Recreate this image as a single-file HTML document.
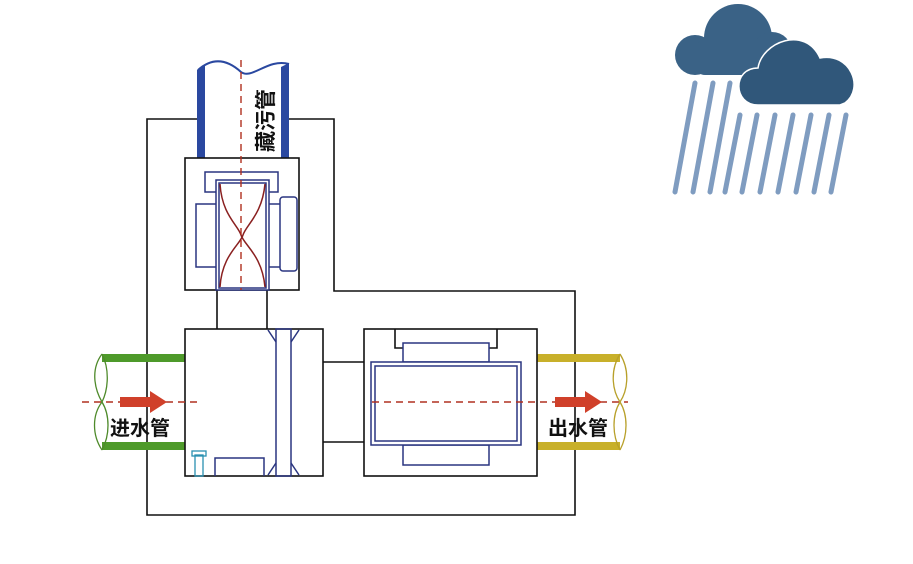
<!DOCTYPE html>
<html><head><meta charset="utf-8"><style>html,body{margin:0;padding:0;background:#fff}svg{display:block}</style></head>
<body>
<svg width="913" height="564" viewBox="0 0 913 564" xmlns="http://www.w3.org/2000/svg">
<g fill="none" stroke="#111" stroke-width="1.6">
<path d="M147 119 H334 V291 H575 V515 H147 Z"/>
</g>
<!-- top blue pipe -->
<rect x="205" y="70" width="76" height="88" fill="#fff"/>
<path d="M197 70 L205 65 V158 H197 Z" fill="#2a48a0"/>
<path d="M281 67 L289 63 V158 H281 Z" fill="#2a48a0"/>
<path d="M198 70 C215 55 230 62 241 72 C252 80 268 58 289 64" fill="none" stroke="#2a48a0" stroke-width="2"/>
<text transform="translate(273,152) rotate(-90)" font-family="Liberation Sans, 'Noto Sans CJK SC', sans-serif" font-size="21" font-weight="bold" fill="#111">藏污管</text>
<!-- upper box -->
<g fill="none" stroke="#111" stroke-width="1.6">
<rect x="185" y="158" width="114" height="132" fill="#fff"/>
<line x1="217" y1="290" x2="217" y2="329"/><line x1="267" y1="290" x2="267" y2="329"/>
<line x1="323" y1="362" x2="364" y2="362"/><line x1="323" y1="442" x2="364" y2="442"/>
</g>
<g fill="#fff" stroke="#2a3580" stroke-width="1.5">
<rect x="205" y="172" width="73" height="20"/>
<rect x="196" y="204" width="22" height="63"/>
<rect x="268" y="204" width="20" height="63"/>
<rect x="280" y="197" width="17" height="74" rx="3"/>
<rect x="216" y="180" width="53" height="110"/>
<rect x="219" y="183" width="47" height="105"/>
</g>
<path d="M220 184 C222 215 238 225 241 235 C244 245 262 255 265 287 M265 184 C262 215 246 225 243 235 C240 245 222 255 220 287" fill="none" stroke="#8a2020" stroke-width="1.5"/>
<line x1="241" y1="60" x2="241" y2="290" stroke="#b03020" stroke-width="1.4" stroke-dasharray="7,5"/>
<!-- pipes -->
<path d="M102 354 H185 V362 H102 Z M102 442 H185 V450 H102 Z" fill="#4e9a2a"/>
<path d="M102 354 C90 370 95 390 102 402 C92 415 92 435 102 450 M102 354 C110 370 108 390 102 402 C110 415 110 435 102 450" fill="none" stroke="#4e8a2a" stroke-width="1.3"/>
<path d="M537 354 H620 V362 H537 Z M537 442 H620 V450 H537 Z" fill="#c8b02a"/>
<path d="M620 354 C610 370 612 390 620 402 C612 415 612 435 620 450 M620 354 C630 370 628 390 620 402 C628 415 628 435 620 450" fill="none" stroke="#b8a02a" stroke-width="1.3"/>
<!-- lower boxes -->
<g fill="#fff" stroke="#111" stroke-width="1.6">
<rect x="185" y="329" width="138" height="147"/>
<rect x="364" y="329" width="173" height="147"/>
</g>
<g fill="none" stroke="#2a3580" stroke-width="1.5">
<rect x="276" y="329" width="15" height="147"/>
<path d="M268 330 L276 342 M299 330 L291 342 M268 475 L276 463 M299 475 L291 463"/>
<path d="M215 476 V458 H264 V476"/>
</g>
<rect x="195" y="455" width="8" height="21" fill="none" stroke="#2a90b0" stroke-width="1.3"/>
<rect x="192" y="451" width="14" height="5" fill="none" stroke="#2a90b0" stroke-width="1.3"/>
<path d="M395 329 V348 H403 M497 329 V348 H489" fill="none" stroke="#111" stroke-width="1.6"/>
<g fill="#fff" stroke="#2a3580" stroke-width="1.5">
<rect x="403" y="343" width="86" height="19"/>
<rect x="403" y="445" width="86" height="20"/>
<rect x="371" y="362" width="150" height="83"/>
<rect x="375" y="366" width="142" height="75"/>
</g>
<line x1="82" y1="402" x2="200" y2="402" stroke="#b03020" stroke-width="1.4" stroke-dasharray="7,5"/>
<line x1="372" y1="402" x2="628" y2="402" stroke="#b03020" stroke-width="1.4" stroke-dasharray="7,5"/>
<path d="M120 397 H150 V391 L167 402 L150 413 V407 H120 Z" fill="#d0402a"/>
<path d="M555 397 H585 V391 L602 402 L585 413 V407 H555 Z" fill="#d0402a"/>
<g font-family="Liberation Sans, 'Noto Sans CJK SC', sans-serif" font-size="20" font-weight="bold" fill="#111">
<text x="110" y="435">进水管</text>
<text x="548" y="435">出水管</text>
</g>
<!-- rain -->
<g stroke="#7f9cc0" stroke-width="5" stroke-linecap="round">
<line x1="695" y1="83" x2="675" y2="192"/><line x1="713" y1="83" x2="693" y2="192"/><line x1="730" y1="83" x2="710" y2="192"/>
<line x1="740" y1="115" x2="725" y2="192"/><line x1="757" y1="115" x2="742" y2="192"/><line x1="775" y1="115" x2="760" y2="192"/>
<line x1="793" y1="115" x2="778" y2="192"/><line x1="811" y1="115" x2="796" y2="192"/><line x1="829" y1="115" x2="814" y2="192"/><line x1="846" y1="115" x2="831" y2="192"/>
</g>
<g fill="#3a6286">
<circle cx="738" cy="38" r="34"/>
<circle cx="695" cy="55" r="20"/>
<circle cx="772" cy="52" r="20"/>
<rect x="695" y="40" width="85" height="35" rx="10"/>
</g>
<g fill="#30577a" stroke="#fff" stroke-width="1.5">
<path d="M758 105 C733 105 732 68 758 68 C762 42 805 25 820 58 C850 52 865 88 845 103 L840 105 Z"/>
</g>
</svg>
</body></html>
